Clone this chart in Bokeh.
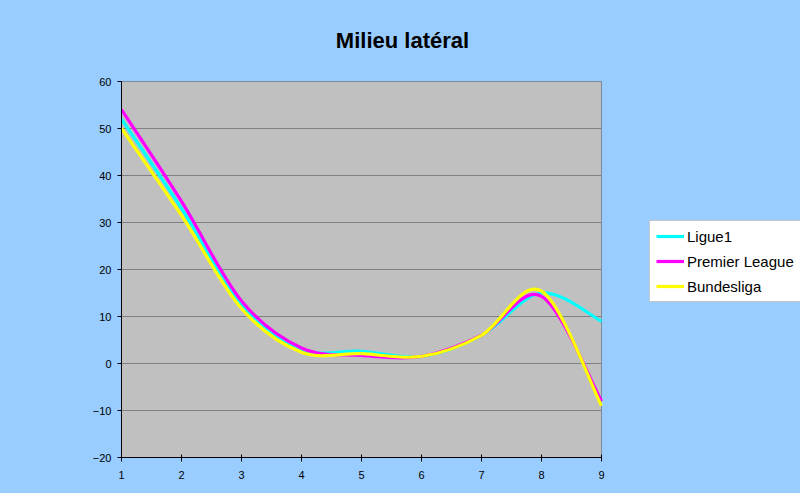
from bokeh.plotting import figure
from bokeh.models import (Legend, LegendItem, FixedTicker, Range1d, ColumnDataSource,
                          BoxAnnotation, Label)
from bokeh.embed import file_html
from bokeh.resources import INLINE

# ---- data ----
x_vals = [1, 2, 3, 4, 5, 6, 7, 8, 9]
ligue1 = [52, 33, 12.5, 3, 2.6, 1.5, 6, 15, 9]
premier_league = [54, 34.5, 13.3, 3.3, 1.7, 1.5, 6, 14.3, -8]
bundesliga = [50, 31.5, 11.7, 2.4, 2.1, 1.5, 6, 15.4, -9]
series_names = ["Ligue1", "Premier League", "Bundesliga"]
series_colors = ["#00FFFF", "#FF00FF", "#FFFF00"]
y_ticks = [-20, -10, 0, 10, 20, 30, 40, 50, 60]
title_text = "Milieu latéral"

# ---- layout (pixels) ----
W, H = 800, 493
PLOT_LEFT, PLOT_RIGHT, PLOT_TOP, PLOT_BOTTOM = 121, 601, 81, 457
FONT = "Liberation Sans"
BG = "#99CCFF"

x0, x1 = x_vals[0], x_vals[-1]
y0, y1 = y_ticks[0], y_ticks[-1]
px_x = (PLOT_RIGHT - PLOT_LEFT) / (x1 - x0)
px_y = (PLOT_BOTTOM - PLOT_TOP) / (y1 - y0)
x_end = x0 + (W - PLOT_LEFT) / px_x
y_end = y0 + PLOT_BOTTOM / px_y

p = figure(width=W, height=H, output_backend="svg", toolbar_location=None,
           x_range=Range1d(x0, x_end), y_range=Range1d(y0, y_end),
           min_border_left=PLOT_LEFT, min_border_right=0, min_border_top=0,
           min_border_bottom=H - PLOT_BOTTOM)
p.title.visible = False
p.styles = {"background-color": BG}
p.border_fill_color = BG
p.border_fill_alpha = 0
p.background_fill_color = BG
p.background_fill_alpha = 0
p.outline_line_color = None

# plot area (grey box with dark border)
p.add_layout(BoxAnnotation(left=x0, right=x1, bottom=y0, top=y1,
                           fill_color="#C0C0C0", fill_alpha=1,
                           line_color="#000000", line_width=1, level="image"))

for ax in (p.xaxis[0], p.yaxis[0]):
    ax.axis_line_color = "#000000"
    ax.major_tick_line_color = "#000000"
    ax.major_tick_out = 4
    ax.minor_tick_line_color = None
    ax.major_label_text_font = FONT
    ax.major_label_text_font_size = "11px"
    ax.major_label_text_color = "#000000"
p.xaxis[0].ticker = FixedTicker(ticks=x_vals)
p.xaxis[0].bounds = (x0, x1)
p.xaxis[0].major_tick_in = 3
p.xaxis[0].major_label_standoff = 9
p.yaxis[0].ticker = FixedTicker(ticks=y_ticks)
p.yaxis[0].bounds = (y0, y1)
p.yaxis[0].major_tick_in = 0
p.yaxis[0].major_label_standoff = 6

p.xgrid.grid_line_color = None
grid_ticks = y_ticks[1:-1]
ygrid = p.ygrid[0]
if "cross_bounds" in ygrid.properties():
    ygrid.ticker = FixedTicker(ticks=grid_ticks)
    ygrid.cross_bounds = (x0, x1)
    ygrid.grid_line_color = "#808080"
    ygrid.grid_line_width = 1
else:
    ygrid.grid_line_color = None
    p.segment(x0=[x0] * len(grid_ticks), x1=[x1] * len(grid_ticks),
              y0=grid_ticks, y1=grid_ticks, line_color="#808080", line_width=1)


def smooth_segments(xs, ys):
    # Bezier control points for a smoothed line through the data points
    n = len(xs)
    d = dict(x0=[], y0=[], x1=[], y1=[], cx0=[], cy0=[], cx1=[], cy1=[])
    for i in range(n - 1):
        xp, yp = (xs[i - 1], ys[i - 1]) if i > 0 else (xs[i], ys[i])
        xn, yn = (xs[i + 2], ys[i + 2]) if i + 2 < n else (xs[i + 1], ys[i + 1])
        d["x0"].append(xs[i]); d["y0"].append(ys[i])
        d["x1"].append(xs[i + 1]); d["y1"].append(ys[i + 1])
        d["cx0"].append(xs[i] + (xs[i + 1] - xp) / 6.0)
        d["cy0"].append(ys[i] + (ys[i + 1] - yp) / 6.0)
        d["cx1"].append(xs[i + 1] - (xn - xs[i]) / 6.0)
        d["cy1"].append(ys[i + 1] - (yn - ys[i]) / 6.0)
    return ColumnDataSource(d)


items = []
for name, ys, col in zip(series_names, [ligue1, premier_league, bundesliga], series_colors):
    src = smooth_segments(x_vals, ys)
    r = p.bezier(x0="x0", y0="y0", x1="x1", y1="y1", cx0="cx0", cy0="cy0", cx1="cx1", cy1="cy1",
                 source=src, line_color=col, line_width=3.2)
    items.append(LegendItem(label=name, renderers=[r], index=0))

legend = Legend(items=items, location=(649 - PLOT_LEFT, PLOT_BOTTOM - 302))
legend.background_fill_color = "#FFFFFF"
legend.background_fill_alpha = 1
legend.border_line_color = "#909090"
legend.border_line_width = 1
legend.label_text_font = FONT
legend.label_text_font_size = "15px"
legend.label_text_color = "#000000"
legend.glyph_width = 28
legend.glyph_height = 18
legend.label_height = 18
legend.label_standoff = 3
legend.spacing = 7
legend.padding = 6
legend.margin = 0
p.add_layout(legend, "center")

# title
p.add_layout(Label(x=x0 + (402 - PLOT_LEFT) / px_x, y=y0 + (PLOT_BOTTOM - 40) / px_y,
                   text=title_text, text_font=FONT, text_font_size="22px",
                   text_font_style="bold", text_color="#000000",
                   text_align="center", text_baseline="alphabetic"))

open("out.html", "w").write(file_html(p, INLINE))
